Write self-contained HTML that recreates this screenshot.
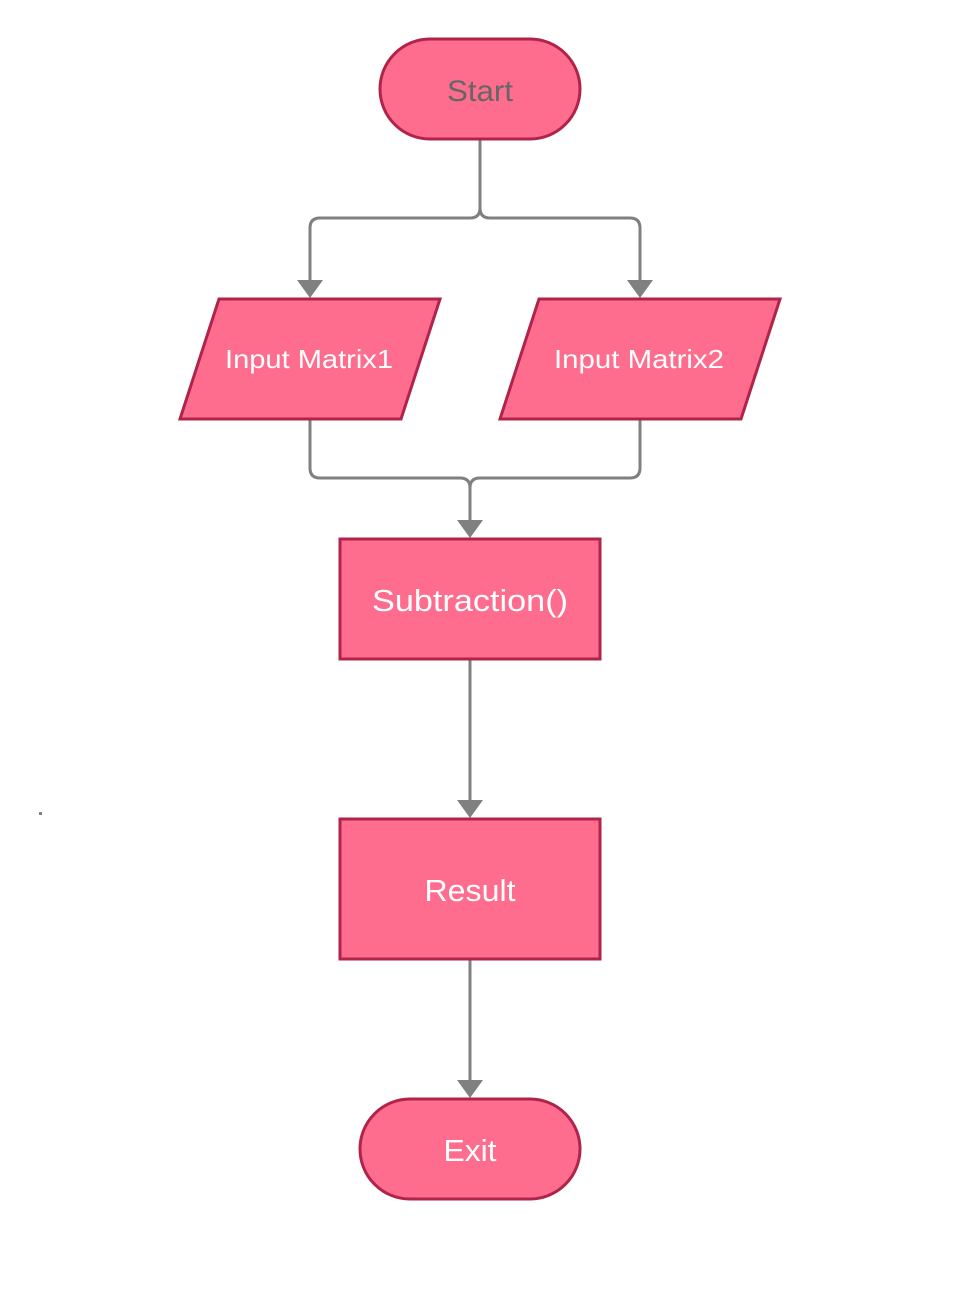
<!DOCTYPE html>
<html><head><style>body{margin:0;background:#fff}svg{display:block}</style></head><body>
<svg width="966" height="1297" viewBox="0 0 966 1297" xmlns="http://www.w3.org/2000/svg" font-family="'Liberation Sans',sans-serif">
<g fill="none" stroke="#808080" stroke-width="3">
<path d="M480 139 V208 Q480 218 470 218 H320 Q310 218 310 228 V282"/>
<path d="M480 139 V208 Q480 218 490 218 H630 Q640 218 640 228 V282"/>
<path d="M310 419 V468 Q310 478 320 478 H460 Q470 478 470 488 V522"/>
<path d="M640 419 V468 Q640 478 630 478 H480 Q470 478 470 488 V522"/>
<path d="M470 659 V802"/>
<path d="M470 959 V1082"/>
</g>
<g fill="#808080">
<path d="M297 280 H323 L310 298 Z"/>
<path d="M627 280 H653 L640 298 Z"/>
<path d="M457 520 H483 L470 538 Z"/>
<path d="M457 800 H483 L470 818 Z"/>
<path d="M457 1080 H483 L470 1098 Z"/>
</g>
<g fill="#fe6c8e" stroke="#b0244a" stroke-width="3">
<rect x="380" y="39" width="200" height="100" rx="50"/>
<path d="M219 299 H440 L401 419 H180 Z"/>
<path d="M539 299 H780 L741 419 H500 Z"/>
<rect x="340" y="539" width="260" height="120"/>
<rect x="340" y="819" width="260" height="140"/>
<rect x="360" y="1099" width="220" height="100" rx="50"/>
</g>
<rect x="39" y="812" width="3" height="3" fill="#808080"/>
<g text-anchor="middle" fill="#fff" lengthAdjust="spacingAndGlyphs">
<text x="480" y="101" fill="#666" font-size="30" textLength="66" lengthAdjust="spacingAndGlyphs">Start</text>
<text x="309" y="368" font-size="26" textLength="168" lengthAdjust="spacingAndGlyphs">Input Matrix1</text>
<text x="639" y="368" font-size="26" textLength="170" lengthAdjust="spacingAndGlyphs">Input Matrix2</text>
<text x="470" y="611" font-size="31" textLength="196" lengthAdjust="spacingAndGlyphs">Subtraction()</text>
<text x="470" y="901" font-size="31" textLength="91" lengthAdjust="spacingAndGlyphs">Result</text>
<text x="470" y="1161" font-size="31" textLength="53" lengthAdjust="spacingAndGlyphs">Exit</text>
</g>
</svg>
</body></html>
